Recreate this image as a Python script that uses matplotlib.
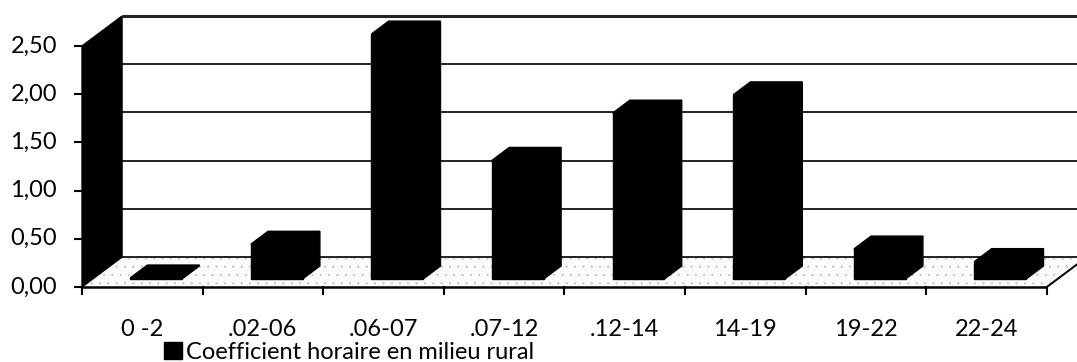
import matplotlib.pyplot as plt
from matplotlib.patches import Polygon, Patch

categories = ["0 -2", ".02-06", ".06-07", ".07-12", ".12-14", "14-19", "19-22", "22-24"]
values = [0.01, 0.36, 2.54, 1.23, 1.72, 1.91, 0.31, 0.18]
y_ticks = [0.0, 0.5, 1.0, 1.5, 2.0, 2.5]
y_labels = ["0,00", "0,50", "1,00", "1,50", "2,00", "2,50"]
series_name = "Coefficient horaire en milieu rural"

plt.rcParams['font.family'] = ['Lato', 'DejaVu Sans']
plt.rcParams['hatch.linewidth'] = 0.5

# oblique projection: depth d (0 = front, 1 = back) shifts right and up
DX, DY = 0.332, 0.311


def proj(x, d, v):
    return (x + DX * d, v + DY * d)


fig = plt.figure(figsize=(10.77, 3.62), dpi=100)
ax = fig.add_axes([0, 0, 1, 1])
ax.set_xlim(-0.680, 8.250)
ax.set_ylim(-0.778, 2.977)
ax.axis('off')

n = len(categories)
vmax = y_ticks[-1]


def face(pts, **kw):
    ax.add_patch(Polygon([proj(*p) for p in pts], closed=True, **kw))


def line(p0, p1, **kw):
    a, b = proj(*p0), proj(*p1)
    ax.plot([a[0], b[0]], [a[1], b[1]], solid_capstyle='butt', **kw)


# floor with light speckled texture
face([(0, 0, 0), (n, 0, 0), (n, 1, 0), (0, 1, 0)],
     facecolor='#fbfbfb', edgecolor='#c8c8c8', hatch='..', linewidth=0, zorder=1)

# back wall gridlines
for t in y_ticks:
    lw = 2.2 if t == vmax else 1.4
    line((0, 1, t), (n + 0.2, 1, t), color='#222222', lw=lw, zorder=2)

# left side wall
face([(0, 0, 0), (0, 0, vmax), (0, 1, vmax), (0, 1, 0)],
     facecolor='black', edgecolor='black', linewidth=1, zorder=3)

# floor edges
line((0, 0, 0), (n, 0, 0), color='black', lw=1.8, zorder=3)
line((n, 0, 0), (n, 1, 0), color='black', lw=1.4, zorder=3)

# bars
d0, d1 = 0.27, 0.70
left, w = 0.31, 0.43
for i, v in enumerate(values):
    x0, x1 = i + left, i + left + w
    style = dict(facecolor='black', edgecolor='black', linewidth=1, zorder=4)
    face([(x0, d0, 0), (x1, d0, 0), (x1, d0, v), (x0, d0, v)], **style)
    face([(x0, d0, v), (x1, d0, v), (x1, d1, v), (x0, d1, v)], **style)
    face([(x1, d0, 0), (x1, d1, 0), (x1, d1, v), (x1, d0, v)], **style)

# x ticks and labels
for i in range(n + 1):
    ax.plot([i, i], [0, -0.075], color='black', lw=1.5, zorder=3)
for i, c in enumerate(categories):
    ax.text(i + 0.5, -0.446, c, ha='center', va='center', fontsize=17)

# y ticks and labels
for t, lab in zip(y_ticks, y_labels):
    ax.plot([-0.06, 0], [t, t], color='black', lw=1.5, zorder=3)
    ax.text(-0.207, t, lab, ha='right', va='center', fontsize=17)

ax.legend(handles=[Patch(facecolor='black', edgecolor='black')], labels=[series_name],
          loc='center left', bbox_to_anchor=(0.68, -0.675), bbox_transform=ax.transData,
          frameon=False, fontsize=17, handlelength=0.75, handleheight=0.75,
          handletextpad=0.2, borderpad=0, borderaxespad=0)

fig.savefig('out.png', dpi=100)
